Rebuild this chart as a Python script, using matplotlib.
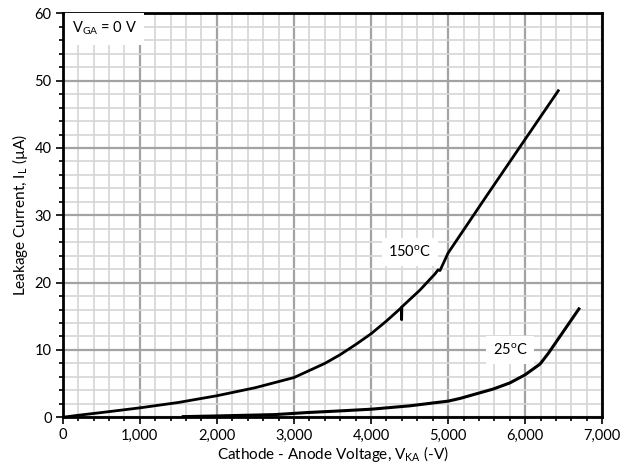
import matplotlib
matplotlib.use('Agg')
import matplotlib.pyplot as plt
from matplotlib.ticker import MultipleLocator, FuncFormatter

plt.rcParams['font.family'] = ['Lato', 'DejaVu Sans']
plt.rcParams['mathtext.default'] = 'regular'

# Leakage current vs cathode-anode voltage at 150 degC
v_150 = [0, 200, 500, 1000, 1500, 2000, 2500, 3000, 3400, 3600, 3800, 4000,
         4200, 4395, 4397, 4400, 4635, 4830, 4870, 4895, 5000, 5500,
         6000, 6429]
i_150 = [0.0, 0.3, 0.7, 1.4, 2.2, 3.2, 4.4, 5.9, 8.0, 9.3, 10.8, 12.4,
         14.3, 16.3, 14.5, 16.4, 18.9, 21.3, 21.9, 21.8, 24.4, 32.9,
         41.3, 48.5]

# Leakage current at 25 degC
v_25 = [1564, 2000, 2750, 3165, 3600, 4000, 4500, 5000, 5154, 5586, 5800,
        5997, 6192, 6300, 6697]
i_25 = [0.1, 0.2, 0.4, 0.7, 0.95, 1.2, 1.7, 2.4, 2.8, 4.2, 5.1, 6.3, 7.9,
        9.5, 16.1]

fig = plt.figure(figsize=(6.3, 4.72), dpi=100, facecolor='white')
ax = fig.add_axes([0.0995, 0.1159, 0.8565, 0.8559])

ax.set_xlim(0, 7000)
ax.set_ylim(0, 60)
ax.xaxis.set_major_locator(MultipleLocator(1000))
ax.xaxis.set_minor_locator(MultipleLocator(200))
ax.yaxis.set_major_locator(MultipleLocator(10))
ax.yaxis.set_minor_locator(MultipleLocator(2))
ax.xaxis.set_major_formatter(FuncFormatter(lambda x, p: f'{int(x):,}'))

ax.grid(which='minor', color='#d6d6d6', linewidth=1.2, zorder=0)
ax.grid(which='major', color='#a3a3a3', linewidth=1.6, zorder=0)
ax.set_axisbelow(True)

for s in ax.spines.values():
    s.set_linewidth(2)
    s.set_color('black')

ax.tick_params(which='major', direction='out', length=5, width=1.2,
               labelsize=10.5, colors='black', pad=3)
ax.tick_params(which='minor', direction='out', length=3, width=1.2)

ax.plot(v_150, i_150, color='black', linewidth=2, zorder=3)
ax.plot(v_25, i_25, color='black', linewidth=2.2, zorder=3)

box = dict(boxstyle='square,pad=0.45', facecolor='white', edgecolor='none')
ax.text(4505, 24.5, '150$^{o}$C', fontsize=10.5, ha='center', va='center',
        bbox=box, zorder=4)
ax.text(5803, 10.0, '25$^{o}$C', fontsize=10.5, ha='center', va='center',
        bbox=box, zorder=4)
ax.text(120, 57.7, 'V$_{GA}$ = 0 V', fontsize=10.5, ha='left', va='center',
        bbox=dict(boxstyle='square,pad=0.5', facecolor='white',
                  edgecolor='none'), zorder=4)

ax.set_xlabel('Cathode - Anode Voltage, V$_{KA}$ (-V)', fontsize=11, labelpad=1)
ax.set_ylabel('Leakage Current, I$_{L}$ (µA)', fontsize=11, labelpad=3)

fig.savefig('out.png', dpi=100, facecolor='white')
